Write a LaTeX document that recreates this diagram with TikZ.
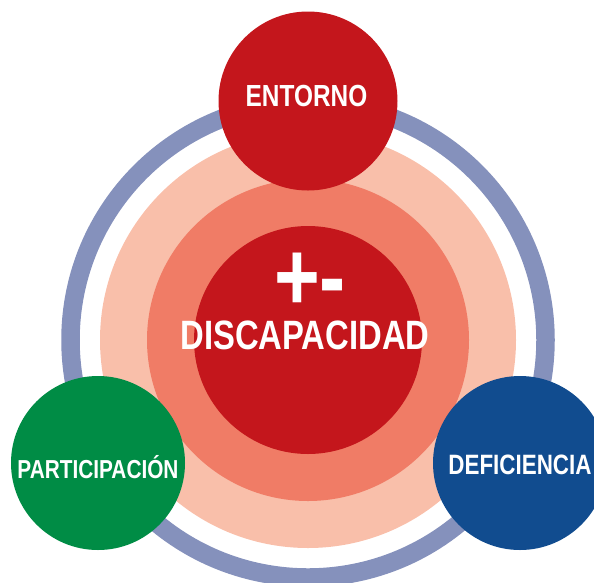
\documentclass[tikz,border=0pt]{standalone}
\usepackage{fontspec}
\setmainfont{Liberation Sans}
\newfontfamily\narrowsf[FakeStretch=0.8]{Liberation Sans}
\usepackage{tikz}
\usetikzlibrary{positioning}
\usetikzlibrary{backgrounds}

\definecolor{ringgray}{HTML}{8591BC}
\definecolor{salmonlight}{HTML}{F9BFAA}
\definecolor{salmonmid}{HTML}{F07C66}
\definecolor{coredred}{HTML}{C4161C}
\definecolor{partgreen}{HTML}{008C45}
\definecolor{defblue}{HTML}{114C8F}

\begin{document}
\begin{tikzpicture}[
                x = 1pt, y = -1pt,
                every node/.style = {circle, inner sep = 0pt, text = white,
                                     font = \narrowsf\bfseries},
                ring/.style = {draw = ringgray, line width = 18.5pt},
                layer/.style = {minimum size = #1},
                satellite/.style = {minimum size = 174pt},
                word/.style = {fill = none, font = \narrowsf\bfseries\fontsize{#1}{#1}\selectfont}
                ]
                \useasboundingbox (0,0) rectangle (594,582);
                \clip (0,0) rectangle (594,582);

                % Rings round the centre
                \coordinate (Mid) at (308,340);
                \draw[ring] (Mid) circle (237.5);
                \node[fill = salmonlight, layer = 416pt] (Light) at (Mid) {};
                \node[fill = salmonmid,   layer = 322pt] (Medium) at (Mid) {};
                \node[fill = coredred,    layer = 228pt] (Core) at (Mid) {};

                % Centre labels
                \node[word = 98, rectangle, anchor = base, text height = 56pt,
                      text depth = 0pt] (Sign) at (310,310) {+-};
                \node[word = 41, rectangle] (Disc) at (305,335) {DISCAPACIDAD};

                % Three outer circles
                \node[fill = coredred, minimum size = 179pt] (Entorno) at (308,101) {};
                \node[fill = partgreen, satellite] (Part) at (98,463) {};
                \node[fill = defblue,   satellite] (Def)  at (520,463) {};

                % Labels of the outer circles
                \node[word = 30.5] at (306.5,96) {ENTORNO};
                \node[word = 26]   at (98,467)  {PARTICIPACIÓN};
                \node[word = 28]   at (520,465) {DEFICIENCIA};
            \end{tikzpicture}
\end{document}
